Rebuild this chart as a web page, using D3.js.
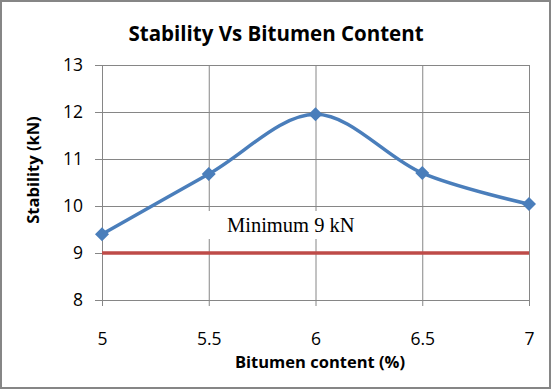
<!DOCTYPE html>
<html>
<head>
<meta charset="utf-8">
<script src="https://cdn.jsdelivr.net/npm/d3@7"></script>
<style>
  body { margin: 0; background: #fff; }
  svg { display: block; }
</style>
</head>
<body>
<div id="chart"></div>
<script>
// data
const bitumen = [5, 5.5, 6, 6.5, 7];
const stability = [9.4, 10.68, 11.95, 10.7, 10.04];
const minStability = 9;
const xTicks = [5, 5.5, 6, 6.5, 7];
const yTicks = [8, 9, 10, 11, 12, 13];

const width = 551;
const height = 389;
const margin = { top: 65, right: 22, bottom: 89, left: 102 };

const svg = d3.select("#chart")
  .append("svg")
  .attr("width", width)
  .attr("height", height);

// outer frame
svg.append("rect")
  .attr("x", 1).attr("y", 1)
  .attr("width", width - 2).attr("height", height - 2)
  .attr("fill", "#fff")
  .attr("stroke", "#868686")
  .attr("stroke-width", 2);

const x = d3.scaleLinear()
  .domain([5, 7])
  .range([margin.left, width - margin.right]);

const y = d3.scaleLinear()
  .domain([8, 13])
  .range([height - margin.bottom, margin.top]);

const font = "'Open Sans', Lato, sans-serif";
const plotW = width - margin.left - margin.right;
const plotH = height - margin.top - margin.bottom;

// horizontal gridlines + y ticks
const yAxis = svg.append("g")
  .attr("transform", `translate(${margin.left},0)`)
  .call(d3.axisLeft(y).tickValues(yTicks).tickFormat(d3.format("d"))
    .tickSize(0).tickPadding(19));
yAxis.select(".domain").remove();
yAxis.selectAll(".tick line")
  .attr("x1", -7)
  .attr("x2", plotW)
  .attr("stroke", "#868686");
yAxis.selectAll("text")
  .attr("font-family", font)
  .attr("font-size", 17.5)
  .attr("fill", "#000");

// vertical gridlines + x ticks
const xAxis = svg.append("g")
  .attr("transform", `translate(0,${height - margin.bottom})`)
  .call(d3.axisBottom(x).tickValues(xTicks).tickFormat(d => d)
    .tickSize(0).tickPadding(33));
xAxis.select(".domain").remove();
xAxis.selectAll(".tick line")
  .attr("y1", 6)
  .attr("y2", -plotH)
  .attr("stroke", "#868686");
xAxis.selectAll("text")
  .attr("font-family", font)
  .attr("font-size", 17.5)
  .attr("fill", "#000");

// minimum line
svg.append("line")
  .attr("x1", x(5)).attr("x2", x(7))
  .attr("y1", y(minStability)).attr("y2", y(minStability))
  .attr("stroke", "#BE4B48")
  .attr("stroke-width", 3.5);

// label box
svg.append("rect")
  .attr("x", 205).attr("y", 211)
  .attr("width", 160).attr("height", 28)
  .attr("fill", "#fff");
svg.append("text")
  .attr("x", 227).attr("y", 232)
  .attr("font-family", "'Liberation Serif', serif")
  .attr("font-size", 20.5)
  .attr("fill", "#000")
  .text("Minimum 9 kN");

// stability curve
const pts = bitumen.map((b, i) => [b, stability[i]]);
const line = d3.line()
  .x(d => x(d[0]))
  .y(d => y(d[1]))
  .curve(d3.curveCardinal.tension(0));

svg.append("path")
  .datum(pts)
  .attr("d", line)
  .attr("fill", "none")
  .attr("stroke", "#4A7EBB")
  .attr("stroke-width", 3.5);

svg.selectAll(".pt")
  .data(pts)
  .enter()
  .append("path")
  .attr("class", "pt")
  .attr("transform", d => `translate(${x(d[0])},${y(d[1])})`)
  .attr("d", "M0,-7L7,0L0,7L-7,0Z")
  .attr("fill", "#4A7EBB");

// title
svg.append("text")
  .attr("x", 276).attr("y", 41)
  .attr("text-anchor", "middle")
  .attr("font-family", font)
  .attr("font-weight", "bold")
  .attr("font-size", 20.5)
  .text("Stability Vs Bitumen Content");

// axis titles
svg.append("text")
  .attr("x", 320).attr("y", 368)
  .attr("text-anchor", "middle")
  .attr("font-family", font)
  .attr("font-weight", "bold")
  .attr("font-size", 16.5)
  .text("Bitumen content (%)");

svg.append("text")
  .attr("transform", "translate(39,170) rotate(-90)")
  .attr("text-anchor", "middle")
  .attr("font-family", font)
  .attr("font-weight", "bold")
  .attr("font-size", 16.5)
  .text("Stability (kN)");
</script>
</body>
</html>
